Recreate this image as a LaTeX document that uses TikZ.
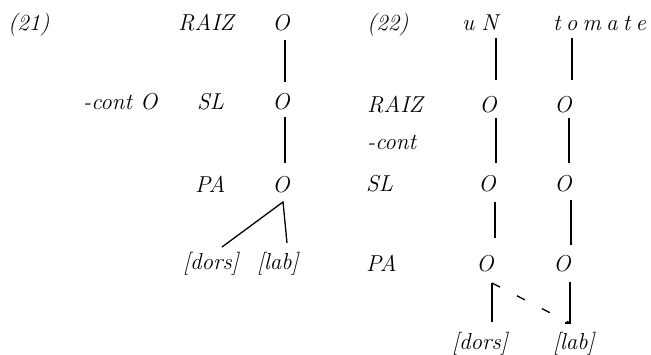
\documentclass[tikz,border=0pt]{standalone}
\usepackage{fontspec}
\begin{document}
\begin{tikzpicture}[x=1pt,y=-1pt,
  txt/.style={inner sep=0pt, font=\fontsize{23}{27}\selectfont\itshape},
  ln/.style={line width=1.3pt}]
\useasboundingbox[fill=white] (0,0) rectangle (651,355);
% ---------- (21) ----------
\node[txt,anchor=base west] (l21) at (8,31) {(21)};
\node[txt,anchor=base west] (raiz1) at (178,31) {RAIZ};
\node[txt,anchor=base] (o1r) at (281,31) {O};
\node[txt,anchor=base west] (cont1) at (83,110) {-cont O};
\node[txt,anchor=base west] (sl1) at (197,110) {SL};
\node[txt,anchor=base] (o1s) at (281,110) {O};
\node[txt,anchor=base west] (pa1) at (195,193) {PA};
\node[txt,anchor=base] (o1p) at (281,193) {O};
\node[txt,anchor=base west] (dors1) at (183,270) {[dors]};
\node[txt,anchor=base west] (lab1) at (257,270) {[lab]};
\draw[ln] ([shift={(4,9)}]o1r.base) -- ([shift={(4,-28)}]o1s.base);
\draw[ln] ([shift={(4,7)}]o1s.base) -- ([shift={(4,-30)}]o1p.base);
\draw[ln] ([shift={(39,-23)}]dors1.base west) -- ([shift={(2,9)}]o1p.base)
          -- ([shift={(30,-27)}]lab1.base west);
% ---------- (22) ----------
\node[txt,anchor=base west] (l22) at (367,31) {(22)};
\node[txt,anchor=base west] (un) at (462,31) {u\hspace{7pt}N};
\node[txt,anchor=base west] (tom) at (553,31) {t\hspace{5.2pt}o\hspace{5.2pt}m\hspace{5.2pt}a\hspace{5.2pt}t\hspace{5.2pt}e};
\node[txt,anchor=base west] (raiz2) at (367,113) {RAIZ};
\node[txt,anchor=base] (o2ra) at (488,113) {O};
\node[txt,anchor=base] (o2rb) at (563,113) {O};
\node[txt,anchor=base west] (cont2) at (367,150) {-cont};
\node[txt,anchor=base west] (sl2) at (366,192) {SL};
\node[txt,anchor=base] (o2sa) at (487,192) {O};
\node[txt,anchor=base] (o2sb) at (563,192) {O};
\node[txt,anchor=base west] (pa2) at (366,272) {PA};
\node[txt,anchor=base] (o2pa) at (485,272) {O};
\node[txt,anchor=base] (o2pb) at (562,272) {O};
\node[txt,anchor=base west] (dors2) at (452,350) {[dors]};
\node[txt,anchor=base west] (lab2) at (553,350) {[lab]};
\draw[ln] ([shift={(34,7)}]un.base west) -- ([shift={(8,-33)}]o2ra.base);
\draw[ln] ([shift={(19,7)}]tom.base west) -- ([shift={(9,-33)}]o2rb.base);
\draw[ln] ([shift={(8,5)}]o2ra.base) -- ([shift={(9,-29)}]o2sa.base);
\draw[ln] ([shift={(6,5)}]o2rb.base) -- ([shift={(6,-29)}]o2sb.base);
\draw[ln] ([shift={(8,10)}]o2sa.base) -- ([shift={(10,-34)}]o2pa.base);
\draw[ln] ([shift={(8,8)}]o2sb.base) -- ([shift={(9,-27)}]o2pb.base);
\coordinate (bl) at ([shift={(7,11)}]o2pa.base);
\coordinate (br) at ([shift={(17,-27)}]lab2.base west);
\draw[ln] ([shift={(40,-28)}]dors2.base west) -- (bl);
\draw[ln] ([shift={(8,10)}]o2pb.base) -- (br) -- ([shift={(12,-27)}]lab2.base west);
\draw[ln, dash pattern=on 9pt off 19pt] (bl) -- (br);
\end{tikzpicture}
\end{document}
